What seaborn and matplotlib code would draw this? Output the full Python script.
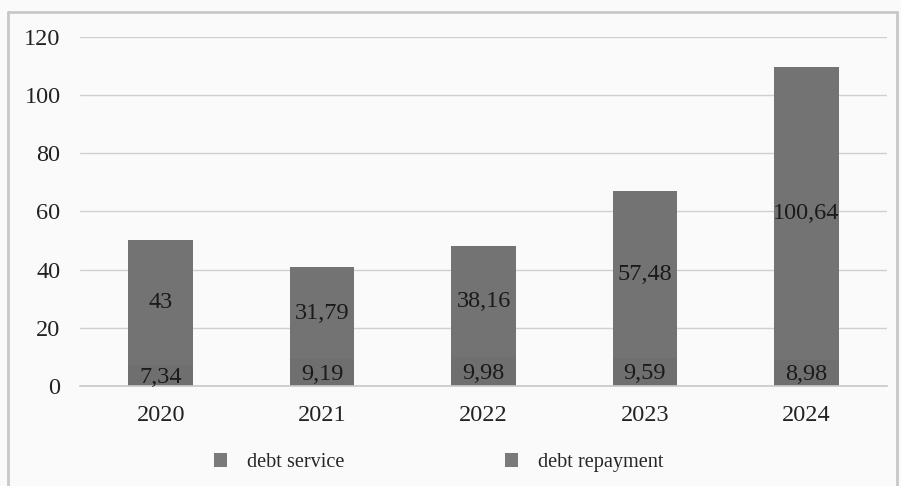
import numpy as np
import pandas as pd
import matplotlib
matplotlib.use('Agg')
import matplotlib.pyplot as plt
import seaborn as sns
from matplotlib.lines import Line2D
from matplotlib.patches import Patch

years = ['2020', '2021', '2022', '2023', '2024']
debt_service = [7.34, 9.19, 9.98, 9.59, 8.98]
debt_repayment = [43, 31.79, 38.16, 57.48, 100.64]

df = pd.DataFrame({'year': years, 'service': debt_service, 'repayment': debt_repayment})
df['total'] = df['service'] + df['repayment']

sns.set_theme(style='white')
plt.rcParams['font.family'] = ['Liberation Serif', 'DejaVu Serif']

bg = '#fafafa'
col_service = '#6f6f6f'
col_repay = '#737373'

fig = plt.figure(figsize=(9.01, 4.86), dpi=100, facecolor=bg)
ax = fig.add_axes([0.0888, 0.2058, 0.8957, 0.7181])
ax.set_facecolor(bg)

# stacked bars: total first, then the bottom segment over it
sns.barplot(data=df, x='year', y='total', color=col_repay, width=0.4,
            saturation=1, ax=ax, zorder=3, linewidth=0, edgecolor='none')
sns.barplot(data=df, x='year', y='service', color=col_service, width=0.4,
            saturation=1, ax=ax, zorder=4, linewidth=0, edgecolor='none')

ax.set_ylim(0, 120)
ax.set_yticks(range(0, 121, 20))
ax.set_xlim(-0.5, 4.5)
ax.yaxis.grid(True, color='#d0d0d0', linewidth=1, zorder=0)
ax.set_axisbelow(True)
for s in ['top', 'right', 'left']:
    ax.spines[s].set_visible(False)
ax.spines['bottom'].set_color('#c8c8c8')
ax.spines['bottom'].set_linewidth(1.2)
ax.spines['bottom'].set_zorder(5)
ax.tick_params(axis='y', length=0, pad=14, labelsize=17.5, labelcolor='#222222')
ax.tick_params(axis='x', length=0, pad=14, labelsize=17.5, labelcolor='#222222')
ax.set_xlabel('')
ax.set_ylabel('')

def fmt(v):
    s = f'{v:.2f}'.rstrip('0').rstrip('.')
    return s.replace('.', ',')

for i in range(len(years)):
    ax.text(i, debt_service[i] / 2 - 0.6, fmt(debt_service[i]), ha='center', va='center',
            fontsize=17.5, color='#1a1a1a', zorder=6)
    ax.text(i, debt_service[i] + debt_repayment[i] / 2, fmt(debt_repayment[i]),
            ha='center', va='center', fontsize=17.5, color='#1a1a1a', zorder=6)

handles = [Patch(facecolor='#7a7a7a', edgecolor='none'),
           Patch(facecolor='#7a7a7a', edgecolor='none')]
fig.legend(handles, ['debt service', 'debt repayment'], loc='center',
           bbox_to_anchor=(0.4867, 0.048), ncol=2, frameon=False, fontsize=14.6,
           handlelength=0.64, handleheight=0.64, handletextpad=1.0, columnspacing=7.9)

# outer frame
for xs, ys in [([0.009, 0.009], [0.0, 0.975]), ([0.009, 0.996], [0.975, 0.975]),
               ([0.996, 0.996], [0.0, 0.975])]:
    fig.add_artist(Line2D(xs, ys, transform=fig.transFigure, color='#c8c8c8', linewidth=2))

fig.savefig('out.png', dpi=100, facecolor=bg)
